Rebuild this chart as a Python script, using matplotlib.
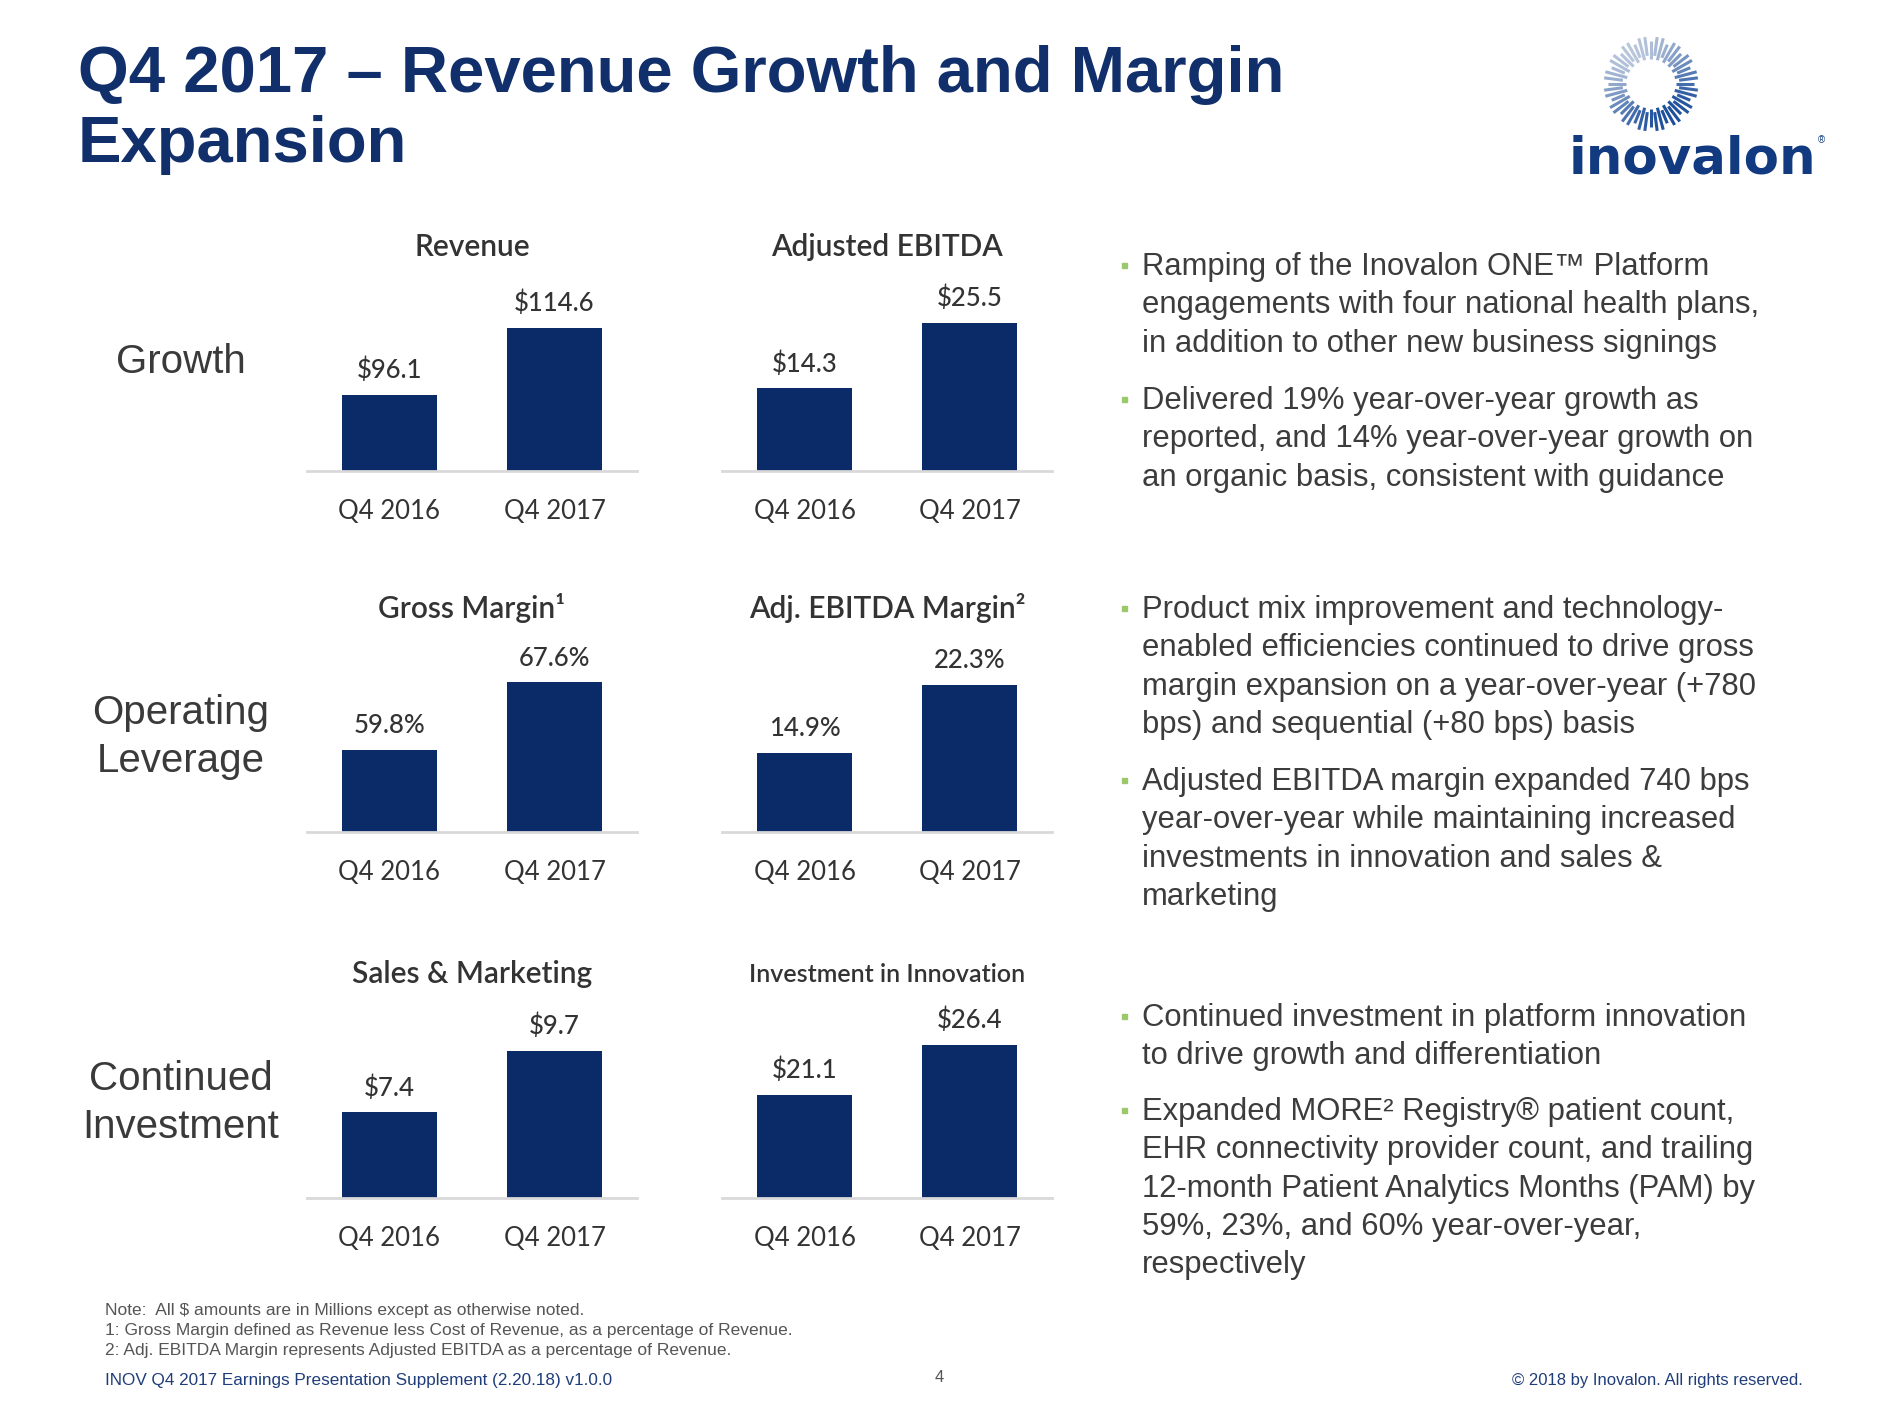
import numpy as np
import matplotlib.pyplot as plt
from matplotlib.colors import to_rgb

W, H = 1879, 1410

# chart data (USD millions / percent)
periods = ['Q4 2016', 'Q4 2017']
revenue = [96.1, 114.6]
adj_ebitda = [14.3, 25.5]
gross_margin = [59.8, 67.6]
ebitda_margin = [14.9, 22.3]
sales_marketing = [7.4, 9.7]
innovation = [21.1, 26.4]

chart_titles = ['Revenue', 'Adjusted EBITDA', 'Gross Margin\u00b9', 'Adj. EBITDA Margin\u00b2',
                'Sales & Marketing', 'Investment in Innovation']
row_labels = ['Growth', 'Operating\nLeverage', 'Continued\nInvestment']

bullets = [
    'Ramping of the Inovalon ONE\u2122 Platform\nengagements with four national health plans,\nin addition to other new business signings',
    'Delivered 19% year-over-year growth as\nreported, and 14% year-over-year growth on\nan organic basis, consistent with guidance',
    'Product mix improvement and technology-\nenabled efficiencies continued to drive gross\nmargin expansion on a year-over-year (+780\nbps) and sequential (+80 bps) basis',
    'Adjusted EBITDA margin expanded 740 bps\nyear-over-year while maintaining increased\ninvestments in innovation and sales &\nmarketing',
    'Continued investment in platform innovation\nto drive growth and differentiation',
    'Expanded MORE\u00b2 Registry\u00ae patient count,\nEHR connectivity provider count, and trailing\n12-month Patient Analytics Months (PAM) by\n59%, 23%, and 60% year-over-year,\nrespectively',
]

notes = ['Note:  All $ amounts are in Millions except as otherwise noted.',
         '1: Gross Margin defined as Revenue less Cost of Revenue, as a percentage of Revenue.',
         '2: Adj. EBITDA Margin represents Adjusted EBITDA as a percentage of Revenue.']

NAVY = '#0b2a68'
TITLE_C = '#102f6b'
GREY_T = '#333333'
BODY_F = ['Liberation Sans', 'DejaVu Sans']
CHART_F = ['Lato', 'DejaVu Sans']


def fx(x):
    return x / W


def fy(y):
    return 1 - y / H


fig = plt.figure(figsize=(W / 100, H / 100), dpi=100)
fig.patch.set_facecolor('white')

# title
fig.text(fx(78), fy(110), 'Q4 2017 \u2013 Revenue Growth and Margin\nExpansion', fontsize=47,
         fontweight='bold', color=TITLE_C, family=BODY_F, va='center', ha='left', linespacing=1.22)

# small charts
series = [revenue, adj_ebitda, gross_margin, ebitda_margin, sales_marketing, innovation]
fmts = ['${:.1f}', '${:.1f}', '{:.1f}%', '{:.1f}%', '${:.1f}', '${:.1f}']
# value-axis ranges chosen to match the slide's truncated bars
ranges = [(75.1, 138.6), (0.2, 39.5), (50.3, 76.9), (6.2, 31.4), (4.2, 12.8), (10.15, 34.55)]
col_x = [307, 722]
row_base = [471, 832, 1198]
ax_w, ax_h = 330, 230

for i, vals in enumerate(series):
    r, c = divmod(i, 2)
    ax = fig.add_axes([fx(col_x[c]), fy(row_base[r]), ax_w / W, ax_h / H])
    x = np.arange(len(periods))
    bars = ax.bar(x, vals, width=0.57, color=NAVY)
    ax.set_xlim(-0.5, 1.5)
    ax.set_ylim(*ranges[i])
    for b, v in zip(bars, vals):
        ax.annotate(fmts[i].format(v), (b.get_x() + b.get_width() / 2, b.get_height()),
                    xytext=(0, 12), textcoords='offset points', ha='center', va='baseline',
                    fontsize=18.5, color=GREY_T, family=CHART_F, fontweight='medium')
    ax.set_xticks(x)
    ax.set_xticklabels(periods, fontsize=18.5, color=GREY_T, family=CHART_F)
    ax.tick_params(axis='x', length=0, pad=20)
    ax.set_yticks([])
    for s in ['top', 'left', 'right']:
        ax.spines[s].set_visible(False)
    ax.spines['bottom'].set_color('#d9d9d9')
    ax.spines['bottom'].set_linewidth(2)
    tsize = 18 if i == 5 else 21.5
    ax.text(0.5, 224 / ax_h, chart_titles[i], transform=ax.transAxes, ha='center', va='center',
            fontsize=tsize, color=GREY_T, family=CHART_F, fontweight='semibold')

# row labels
for lab, y in zip(row_labels, [362, 737, 1103]):
    fig.text(fx(181), fy(y), lab, fontsize=29, color='#3a3a3a', family=BODY_F,
             ha='center', va='center', linespacing=1.3)

# bullets
for txt, y in zip(bullets, [264, 398, 607, 779, 1015, 1109]):
    fig.text(fx(1142), fy(y - 12), txt, fontsize=22.3, color='#3c3c3c', family=BODY_F,
             ha='left', va='top', linespacing=1.36)
    fig.patches.append(plt.Rectangle((fx(1122), fy(y + 4)), 5 / W, 5 / H, color='#9cc86b',
                                     transform=fig.transFigure, figure=fig))

# footer
for k, n in enumerate(notes):
    fig.text(fx(105), fy(1310 + 20 * k), n, fontsize=12.5, color='#555555', family=BODY_F,
             ha='left', va='center')
fig.text(fx(105), fy(1381), 'INOV Q4 2017 Earnings Presentation Supplement (2.20.18) v1.0.0',
         fontsize=12.3, color='#1f3d7a', family=BODY_F, ha='left', va='center')
fig.text(fx(939), fy(1378), '4', fontsize=12, color='#555555', family=BODY_F, ha='center', va='center')
fig.text(fx(1803), fy(1381), '\u00a9 2018 by Inovalon. All rights reserved.', fontsize=12,
         color='#1f3d7a', family=BODY_F, ha='right', va='center')

# logo ring
lax = fig.add_axes([fx(1651 - 52), fy(84 + 52), 104 / W, 104 / H])
lax.set_xlim(-1.1, 1.1)
lax.set_ylim(-1.1, 1.1)
lax.set_aspect('equal')
lax.axis('off')
light = np.array(to_rgb('#b8c6dc'))
dark = np.array(to_rgb('#1d4f9c'))
n_stripes = 48
for k in range(n_stripes):
    th = 2 * np.pi * k / n_stripes
    r0 = 0.52 if k % 2 == 0 else 0.6
    r1 = 1.0 if k % 3 else 0.9
    m = 0.5 + 0.5 * np.cos(th + np.pi / 3)
    col = light * (1 - m) + dark * m
    lax.plot([r0 * np.cos(th), r1 * np.cos(th)], [r0 * np.sin(th), r1 * np.sin(th)],
             color=col, lw=2.2, solid_capstyle='butt')
fig.text(fx(1692), fy(159), 'inovalon', fontsize=37, fontweight='bold', color='#123a80',
         family=['DejaVu Sans'], ha='center', va='center')
fig.text(fx(1821), fy(140), '\u00ae', fontsize=7, color='#123a80', family=BODY_F,
         ha='center', va='center')

fig.savefig('out.png', dpi=100, facecolor='white')
